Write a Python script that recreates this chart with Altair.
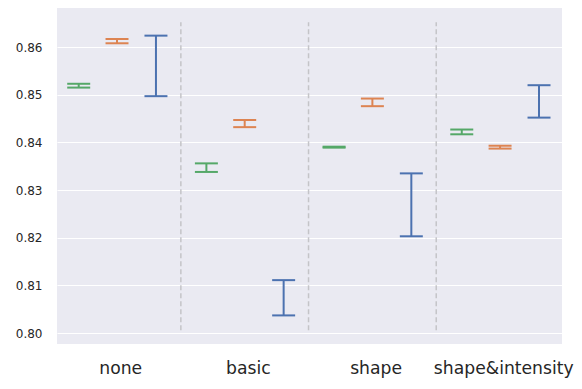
import altair as alt
import pandas as pd

categories = ["none", "basic", "shape", "shape&intensity"]
series = ["green", "orange", "blue"]
colors = ["#55a868", "#dd8452", "#4c72b0"]

green_lo = [0.8515, 0.8338, 0.8389, 0.8417]
green_hi = [0.8523, 0.8356, 0.8391, 0.8427]
orange_lo = [0.8608, 0.8432, 0.8476, 0.8387]
orange_hi = [0.8617, 0.8447, 0.8492, 0.8393]
blue_lo = [0.8497, 0.8037, 0.8203, 0.8452]
blue_hi = [0.8624, 0.8111, 0.8335, 0.8520]

y_ticks = [0.80, 0.81, 0.82, 0.83, 0.84, 0.85, 0.86]
divider_lo, divider_hi = 0.8006, 0.8652

offsets = {"green": -0.30, "orange": 0.0, "blue": 0.305}
los = {"green": green_lo, "orange": orange_lo, "blue": blue_lo}
his = {"green": green_hi, "orange": orange_hi, "blue": blue_hi}

rows = []
for s in series:
    for i, c in enumerate(categories):
        rows.append({"series": s, "cat": c, "idx": i, "off": offsets[s],
                     "lo": los[s][i], "hi": his[s][i]})
df = pd.DataFrame(rows)

div_df = pd.DataFrame({"b": [i + 0.5 for i in range(len(categories) - 1)],
                       "ylo": divider_lo, "yhi": divider_hi})

label_expr = "[" + ",".join("'" + c + "'" for c in categories) + "][round(datum.value)]"

xscale = alt.Scale(domain=[-0.47, 3.485], nice=False, zero=False)
yscale = alt.Scale(domain=[0.7977, 0.8682], nice=False, zero=False)
cscale = alt.Scale(domain=series, range=colors)

xaxis = alt.Axis(values=[i + 0.025 for i in range(len(categories))], labelExpr=label_expr,
                 grid=False, ticks=False, domain=False, title=None, labelFontSize=17.2,
                 labelPadding=15, labelColor="#262626", labelFont="DejaVu Sans",
                 labelOverlap=False, labelBound=False)
yaxis = alt.Axis(values=y_ticks, format=".2f", grid=True, gridColor="white", gridWidth=1.2,
                 ticks=False, domain=False, title=None, labelFontSize=12, labelPadding=15,
                 labelColor="#262626", labelFont="DejaVu Sans")

base = alt.Chart(df).transform_calculate(
    x="datum.idx + datum.off",
    xl="datum.idx + datum.off - 0.09",
    xr="datum.idx + datum.off + 0.09",
)

vert = base.mark_rule(strokeWidth=2).encode(
    x=alt.X("x:Q", scale=xscale, axis=xaxis),
    y=alt.Y("lo:Q", scale=yscale, axis=yaxis),
    y2="hi:Q",
    color=alt.Color("series:N", scale=cscale, legend=None),
)
cap_lo = base.mark_rule(strokeWidth=2).encode(
    x=alt.X("xl:Q", scale=xscale), x2="xr:Q",
    y=alt.Y("lo:Q", scale=yscale),
    color=alt.Color("series:N", scale=cscale, legend=None),
)
cap_hi = base.mark_rule(strokeWidth=2).encode(
    x=alt.X("xl:Q", scale=xscale), x2="xr:Q",
    y=alt.Y("hi:Q", scale=yscale),
    color=alt.Color("series:N", scale=cscale, legend=None),
)
dividers = alt.Chart(div_df).mark_rule(color="#c4c4c8", strokeWidth=1.5, strokeDash=[5, 3]).encode(
    x=alt.X("b:Q", scale=xscale),
    y=alt.Y("ylo:Q", scale=yscale),
    y2="yhi:Q",
)

chart = alt.layer(dividers, vert, cap_lo, cap_hi).properties(
    width=505, height=336,
    autosize=alt.AutoSizeParams(type="none"),
    padding={"left": 49, "top": 0, "right": 12, "bottom": 37},
).configure_view(fill="#eaeaf2", stroke=None)

chart.save("out.html", embed_options={"renderer": "svg", "actions": False})
